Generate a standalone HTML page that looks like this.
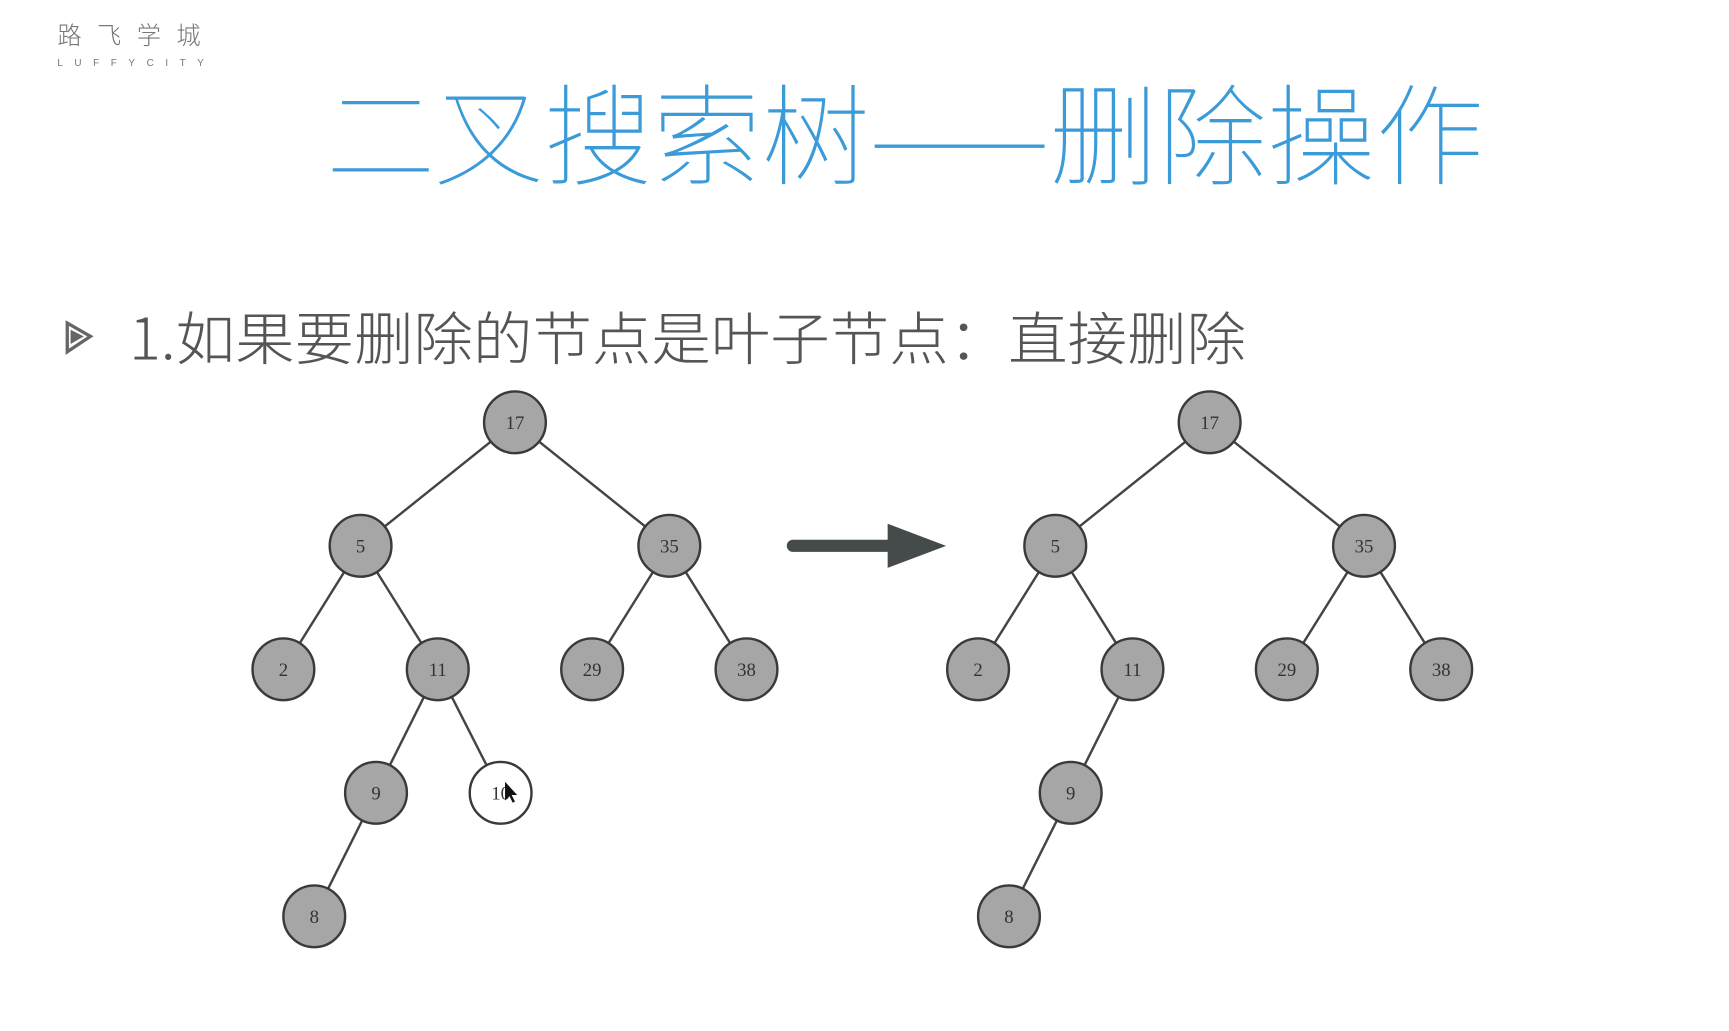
<!DOCTYPE html>
<html><head><meta charset="utf-8"><style>
html,body{margin:0;padding:0;background:#fff;width:1729px;height:1031px;overflow:hidden}
svg{display:block}
</style></head><body>
<svg width="1729" height="1031" viewBox="0 0 1568 935" preserveAspectRatio="none" xmlns="http://www.w3.org/2000/svg">
<rect width="1568" height="935" fill="#fff"/>
<text x="52" y="40" font-family="'Noto Sans CJK SC',sans-serif" font-size="22" fill="#777" letter-spacing="14" font-weight="300">路飞学城</text>
<text x="52" y="60" font-family="'Liberation Sans',sans-serif" font-size="9" fill="#777" letter-spacing="10.5">LUFFYCITY</text>
<text x="296" y="160" font-family="'Noto Sans CJK SC',sans-serif" font-size="100" font-weight="100" fill="#3b9bd8" textLength="1050" lengthAdjust="spacingAndGlyphs">二叉搜索树——删除操作</text>
<polygon points="61,293 82,305 61,319" fill="none" stroke="#666" stroke-width="3"/>
<polygon points="64,299 76,305 64,312" fill="#666"/>
<text x="117" y="326" font-family="'Noto Sans CJK SC',sans-serif" font-size="52" font-weight="200" fill="#555" textLength="1013" lengthAdjust="spacingAndGlyphs">1.如果要删除的节点是叶子节点：直接删除</text>
<g stroke="#444" stroke-width="2.2">
<line x1="467" y1="383" x2="327" y2="495"/><line x1="467" y1="383" x2="607" y2="495"/>
<line x1="327" y1="495" x2="257" y2="607"/><line x1="327" y1="495" x2="397" y2="607"/>
<line x1="607" y1="495" x2="537" y2="607"/><line x1="607" y1="495" x2="677" y2="607"/>
<line x1="397" y1="607" x2="341" y2="719"/><line x1="397" y1="607" x2="454" y2="719"/>
<line x1="341" y1="719" x2="285" y2="831"/>
<line x1="1097" y1="383" x2="957" y2="495"/><line x1="1097" y1="383" x2="1237" y2="495"/>
<line x1="957" y1="495" x2="887" y2="607"/><line x1="957" y1="495" x2="1027" y2="607"/>
<line x1="1237" y1="495" x2="1167" y2="607"/><line x1="1237" y1="495" x2="1307" y2="607"/>
<line x1="1027" y1="607" x2="971" y2="719"/>
<line x1="971" y1="719" x2="915" y2="831"/>
</g>
<g stroke="#3a3a3a" stroke-width="2.2" fill="#a6a6a6">
<circle cx="467" cy="383" r="28"/><circle cx="327" cy="495" r="28"/><circle cx="607" cy="495" r="28"/>
<circle cx="257" cy="607" r="28"/><circle cx="397" cy="607" r="28"/><circle cx="537" cy="607" r="28"/><circle cx="677" cy="607" r="28"/>
<circle cx="341" cy="719" r="28"/><circle cx="454" cy="719" r="28" fill="#fff"/><circle cx="285" cy="831" r="28"/>
<circle cx="1097" cy="383" r="28"/><circle cx="957" cy="495" r="28"/><circle cx="1237" cy="495" r="28"/>
<circle cx="887" cy="607" r="28"/><circle cx="1027" cy="607" r="28"/><circle cx="1167" cy="607" r="28"/><circle cx="1307" cy="607" r="28"/>
<circle cx="971" cy="719" r="28"/><circle cx="915" cy="831" r="28"/>
</g>
<g font-family="'Liberation Serif',serif" font-size="17" fill="#333" text-anchor="middle">
<text x="467" y="389">17</text><text x="327" y="501">5</text><text x="607" y="501">35</text>
<text x="257" y="613">2</text><text x="397" y="613">11</text><text x="537" y="613">29</text><text x="677" y="613">38</text>
<text x="341" y="725">9</text><text x="454" y="725">10</text><text x="285" y="837">8</text>
<text x="1097" y="389">17</text><text x="957" y="501">5</text><text x="1237" y="501">35</text>
<text x="887" y="613">2</text><text x="1027" y="613">11</text><text x="1167" y="613">29</text><text x="1307" y="613">38</text>
<text x="971" y="725">9</text><text x="915" y="837">8</text>
</g>
<path d="M458,709 L458,726 L462,722 L465,728 L467,727 L464,721 L469,721 Z" fill="#111"/>
<line x1="719" y1="495" x2="808" y2="495" stroke="#454b4b" stroke-width="11" stroke-linecap="round"/>
<polygon points="805,475 858,495 805,515" fill="#454b4b"/>
</svg>
</body></html>
